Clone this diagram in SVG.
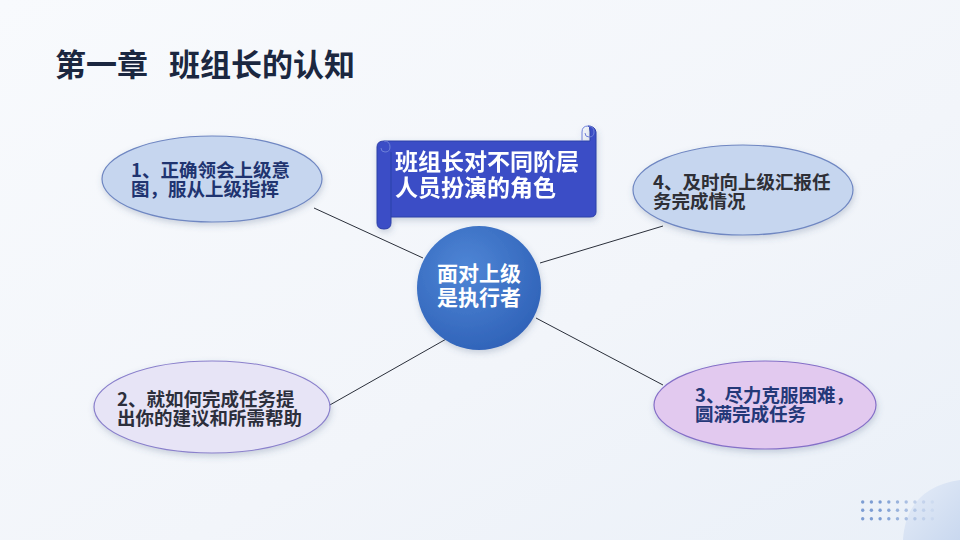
<svg xmlns="http://www.w3.org/2000/svg" width="960" height="540" viewBox="0 0 960 540">
<defs>
<linearGradient id="bg" x1="0" y1="0" x2="1" y2="1">
<stop offset="0" stop-color="#f8fafd"/>
<stop offset="0.6" stop-color="#f2f5fa"/>
<stop offset="1" stop-color="#eaf0f8"/>
</linearGradient>
<radialGradient id="cg" cx="0.4" cy="0.35" r="0.7">
<stop offset="0" stop-color="#4f86d6"/>
<stop offset="1" stop-color="#2f62b8"/>
</radialGradient>
<linearGradient id="corner" x1="0" y1="0" x2="1" y2="1">
<stop offset="0" stop-color="#e6edf8"/>
<stop offset="1" stop-color="#c9d8ef"/>
</linearGradient>
<filter id="sh" x="-20%" y="-20%" width="140%" height="150%">
<feDropShadow dx="1" dy="3" stdDeviation="3" flood-color="#4a5a80" flood-opacity="0.25"/>
</filter>
<style>
.title{font-family:"Noto Sans CJK SC","Noto Sans",sans-serif;font-weight:700;font-size:31px;fill:#1b2740}
.et{font-family:"Noto Sans CJK SC","Noto Sans",sans-serif;font-weight:700;font-size:18.5px}
.wt{font-family:"Noto Sans CJK SC","Noto Sans",sans-serif;font-weight:700;fill:#ffffff}
.conn line{stroke:#2a2f3a;stroke-width:1}
</style>
</defs>
<rect width="960" height="540" fill="url(#bg)"/>
<path d="M903,540 C905,505 925,485 960,480 L960,540 Z" fill="url(#corner)"/>
<g id="dots">
<g fill="#7d9dd3">
<circle cx="862.7" cy="502" r="1.7"/><circle cx="871.4" cy="502" r="1.7"/><circle cx="880.1" cy="502" r="1.7"/><circle cx="888.8" cy="502" r="1.7" opacity="0.9"/><circle cx="897.5" cy="502" r="1.7" opacity="0.75"/><circle cx="906.2" cy="502" r="1.7" opacity="0.6"/><circle cx="914.9" cy="502" r="1.7" opacity="0.4"/><circle cx="923.6" cy="502" r="1.7" opacity="0.25"/><circle cx="932.3" cy="502" r="1.7" opacity="0.12"/>
<circle cx="862.7" cy="510.3" r="1.7"/><circle cx="871.4" cy="510.3" r="1.7"/><circle cx="880.1" cy="510.3" r="1.7"/><circle cx="888.8" cy="510.3" r="1.7" opacity="0.9"/><circle cx="897.5" cy="510.3" r="1.7" opacity="0.75"/><circle cx="906.2" cy="510.3" r="1.7" opacity="0.6"/><circle cx="914.9" cy="510.3" r="1.7" opacity="0.4"/><circle cx="923.6" cy="510.3" r="1.7" opacity="0.25"/><circle cx="932.3" cy="510.3" r="1.7" opacity="0.12"/>
<circle cx="862.7" cy="518.7" r="1.7"/><circle cx="871.4" cy="518.7" r="1.7"/><circle cx="880.1" cy="518.7" r="1.7"/><circle cx="888.8" cy="518.7" r="1.7" opacity="0.9"/><circle cx="897.5" cy="518.7" r="1.7" opacity="0.75"/><circle cx="906.2" cy="518.7" r="1.7" opacity="0.6"/><circle cx="914.9" cy="518.7" r="1.7" opacity="0.4"/><circle cx="923.6" cy="518.7" r="1.7" opacity="0.25"/><circle cx="932.3" cy="518.7" r="1.7" opacity="0.12"/>
</g>
</g>
<text class="title" x="55" y="76">第一章</text>
<text class="title" x="169" y="76">班组长的认知</text>
<g id="connectors" class="conn">
<line x1="314" y1="208" x2="423" y2="258"/>
<line x1="540" y1="263" x2="663" y2="226"/>
<line x1="448" y1="338" x2="321" y2="410"/>
<line x1="536" y1="318" x2="663" y2="385"/>
</g>
<g id="n1">
<ellipse cx="212" cy="179" rx="110" ry="43" fill="#c6d6ef" stroke="#6f87c2" stroke-width="1.2" filter="url(#sh)"/>
<text class="et" fill="#1f3470"><tspan x="131" y="177">1、正确领会上级意</tspan><tspan x="131" y="196">图，服从上级指挥</tspan></text>
</g>
<g id="n4">
<ellipse cx="743" cy="190" rx="110" ry="45" fill="#c6d6ef" stroke="#6f87c2" stroke-width="1.2" filter="url(#sh)"/>
<text class="et" fill="#2e2f36"><tspan x="653" y="189">4、及时向上级汇报任</tspan><tspan x="653" y="208">务完成情况</tspan></text>
</g>
<g id="n2">
<ellipse cx="212" cy="407" rx="118" ry="46" fill="#e7e4f6" stroke="#8a80cc" stroke-width="1.2" filter="url(#sh)"/>
<text class="et" fill="#2c2f3c"><tspan x="117" y="406">2、就如何完成任务提</tspan><tspan x="117" y="425">出你的建议和所需帮助</tspan></text>
</g>
<g id="n3">
<ellipse cx="765" cy="405" rx="111" ry="44" fill="#e2c9ef" stroke="#8570c8" stroke-width="1.2" filter="url(#sh)"/>
<text class="et" fill="#243878"><tspan x="695" y="402">3、尽力克服困难，</tspan><tspan x="695" y="421">圆满完成任务</tspan></text>
</g>
<g id="center">
<circle cx="479" cy="288" r="62" fill="url(#cg)" filter="url(#sh)"/>
<text class="wt" font-size="21" text-anchor="middle"><tspan x="479" y="281">面对上级</tspan><tspan x="479" y="305">是执行者</tspan></text>
</g>
<g id="banner" filter="url(#sh)">
<path d="M384,141 L590,141 L590,132 Q590,126 588,126 Q595,126 596,132 L596,212 Q596,217 590,217 L391,217 L391,223 Q391,229 384,229 Q377,229 377,223 L377,147 Q377,141 384,141 Z" fill="#3a4ec6" stroke="#2d3ea8" stroke-width="1"/>
<path d="M582,141 L582,132 Q582,126 588,126 Q594,126 594,132 Q594,137 589,137 Q585,137 585,133" fill="none" stroke="#6e7fd8" stroke-width="1"/>
<path d="M384,141 Q390,141 390,147 Q390,152 385,152 Q381,152 381,148" fill="none" stroke="#6e7fd8" stroke-width="1"/>
<line x1="391" y1="152" x2="391" y2="217" stroke="#2d3ea8" stroke-width="1"/>
<text class="wt" font-size="23"><tspan x="395" y="170">班组长对不同阶层</tspan><tspan x="395" y="196">人员扮演的角色</tspan></text>
</g>
</svg>
